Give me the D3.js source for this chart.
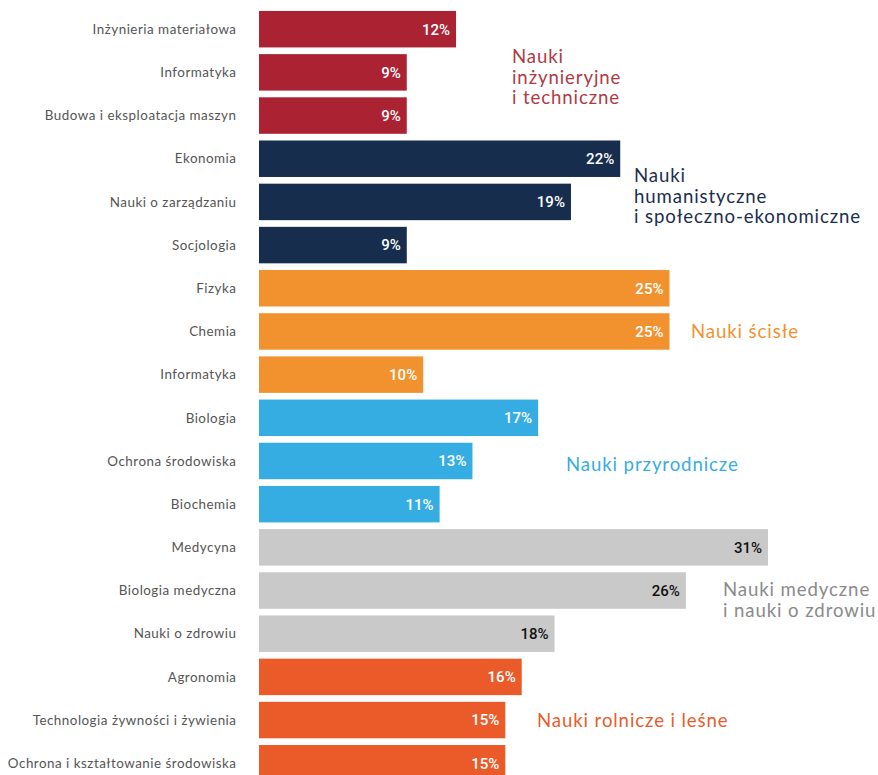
<!DOCTYPE html>
<html lang="pl">
<head>
<meta charset="utf-8">
<script src="https://cdn.jsdelivr.net/npm/d3@7"></script>
<style>
  html, body { margin: 0; padding: 0; background: #fff; }
  svg { display: block; }
</style>
</head>
<body>
<svg id="chart" width="878" height="775"></svg>
<script>
// Dyscypliny (w kolejności od góry), udział procentowy i grupa dziedzin
const categories = [
  "Inżynieria materiałowa", "Informatyka", "Budowa i eksploatacja maszyn",
  "Ekonomia", "Nauki o zarządzaniu", "Socjologia",
  "Fizyka", "Chemia", "Informatyka",
  "Biologia", "Ochrona środowiska", "Biochemia",
  "Medycyna", "Biologia medyczna", "Nauki o zdrowiu",
  "Agronomia", "Technologia żywności i żywienia", "Ochrona i kształtowanie środowiska"
];
const values = [12, 9, 9, 22, 19, 9, 25, 25, 10, 17, 13, 11, 31, 26, 18, 16, 15, 15];
const groupOf = [0, 0, 0, 1, 1, 1, 2, 2, 2, 3, 3, 3, 4, 4, 4, 5, 5, 5];

// Grupy dziedzin: nazwa (wiersze), kolor słupka, kolor podpisu, kolor wartości
const groupNames = [
  ["Nauki", "inżynieryjne", "i techniczne"],
  ["Nauki", "humanistyczne", "i społeczno-ekonomiczne"],
  ["Nauki ścisłe"],
  ["Nauki przyrodnicze"],
  ["Nauki medyczne", "i nauki o zdrowiu"],
  ["Nauki rolnicze i leśne"]
];
const barColors   = ["#ab2233", "#172d4d", "#f2922f", "#36ade2", "#c8c9c8", "#eb5b2a"];
const titleColors = ["#b03a44", "#1b2e4e", "#f2922f", "#36ade2", "#8a8a8a", "#eb5b2a"];
const valueColors = ["#fff", "#fff", "#fff", "#fff", "#111", "#fff"];

// Pozycje podpisów grup: [x, linia bazowa pierwszego wiersza]
const groupLabelPos = [[512, 63], [634, 182], [691, 338], [566, 471], [723, 596], [537, 727]];

const svg = d3.select("#chart");
const idx = d3.range(categories.length);

const x = d3.scaleLinear().domain([0, 31]).range([259, 768]);
const y = d3.scaleBand()
  .domain(idx)
  .range([7.6, 7.6 + 18 * 43.18])
  .paddingInner(0.155)
  .paddingOuter(0.0775);

// Słupki
svg.append("g").selectAll("rect")
  .data(idx)
  .join("rect")
  .attr("x", x(0))
  .attr("y", i => y(i))
  .attr("width", i => x(values[i]) - x(0))
  .attr("height", y.bandwidth())
  .attr("fill", i => barColors[groupOf[i]]);

// Oś kategorii (bez linii i znaczników)
const axis = svg.append("g")
  .attr("transform", `translate(${x(0) - 22.5},0)`)
  .call(d3.axisLeft(y).tickSize(0).tickPadding(0).tickFormat(i => categories[i]));
axis.select(".domain").remove();
axis.selectAll("text")
  .attr("fill", "#555")
  .attr("font-family", "Lato, 'Noto Sans', sans-serif")
  .attr("font-size", 13.4)
  .attr("letter-spacing", 0.5)
  .attr("dy", "0.35em");

// Wartości na słupkach
svg.append("g").selectAll("text")
  .data(idx)
  .join("text")
  .attr("x", i => x(values[i]) - 6)
  .attr("y", i => y(i) + y.bandwidth() / 2)
  .attr("dy", "0.36em")
  .attr("text-anchor", "end")
  .attr("font-family", "Roboto, 'Liberation Sans', Arial, sans-serif")
  .attr("font-weight", 500)
  .attr("font-size", 15)
  .attr("fill", i => valueColors[groupOf[i]])
  .text(i => values[i] + "%");

// Podpisy grup
groupNames.forEach((lines, g) => {
  const t = svg.append("text")
    .attr("x", groupLabelPos[g][0])
    .attr("y", groupLabelPos[g][1])
    .attr("font-family", "Lato, 'Noto Sans', sans-serif")
    .attr("font-size", 18.6)
    .attr("letter-spacing", 0.9)
    .attr("fill", titleColors[g]);
  lines.forEach((s, k) => {
    t.append("tspan")
      .attr("x", groupLabelPos[g][0])
      .attr("dy", k === 0 ? 0 : 20.6)
      .text(s);
  });
});
</script>
</body>
</html>
